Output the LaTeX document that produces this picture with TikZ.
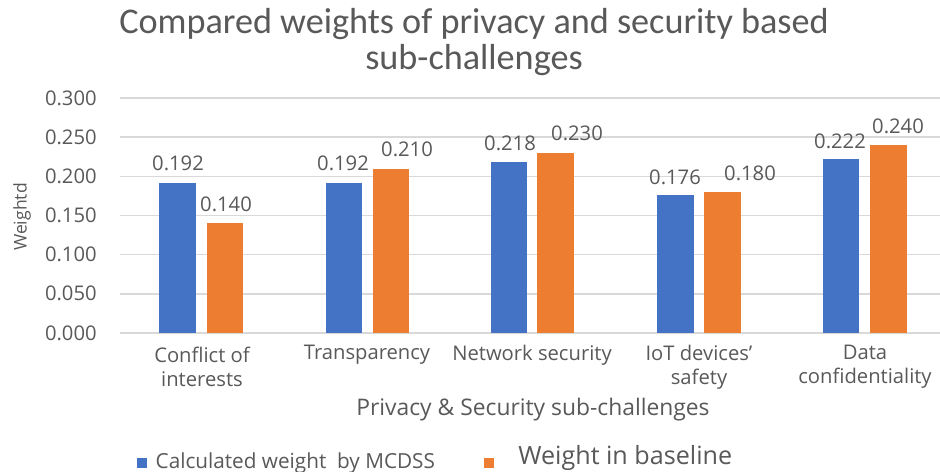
\documentclass[tikz,border=0pt]{standalone}
\usepackage{fontspec}
\setmainfont{Open Sans}
\newfontfamily\titlefont{Carlito}
\usetikzlibrary{positioning}
\definecolor{calcblue}{HTML}{4472C4}
\definecolor{baseorange}{HTML}{ED7D31}
\definecolor{gridgray}{HTML}{D9D9D9}
\definecolor{textgray}{HTML}{595959}
\tikzset{
  gridline/.style={draw=gridgray, line width=0.03cm},
  calcbar/.style={fill=calcblue},
  basebar/.style={fill=baseorange},
  ticklabel/.style={anchor=east, text=textgray, inner sep=0pt, font=\fontsize{11.5}{13}\selectfont},
  vallabel/.style={text=textgray, inner sep=0pt, font=\fontsize{11.5}{13}\selectfont},
  catlabel/.style={text=textgray, align=center, inner sep=0pt, font=\fontsize{11.5}{13.6}\selectfont},
  axistitle/.style={text=textgray, inner sep=0pt, font=\fontsize{13}{15}\selectfont},
  legendkey/.style={minimum size=0.2cm, inner sep=0pt},
  legendtext/.style={text=textgray, inner sep=0pt, font=\fontsize{11.8}{13}\selectfont}
}

\begin{document}
\begin{tikzpicture}[x=0.02cm, y=-0.02cm]
  \useasboundingbox (0,0) rectangle (940,471);
  \clip (0,0) rectangle (940,471);
  \fill[white] (0,0) rectangle (940,471);

  % title
  \node[text=textgray, align=center, inner sep=0pt, font=\titlefont\fontsize{20.6}{20.6}\selectfont] (title) at (474,42)
    {Compared weights of privacy and security based\\sub-challenges};

  % grid and value axis
  \foreach \v/\y in {0.000/333, 0.050/293.8, 0.100/254.7, 0.150/215.5, 0.200/176.3, 0.250/137.2, 0.300/98} {
    \draw[gridline] (120,\y) -- (940,\y);
    \node[ticklabel] (tick\v) at (97,\y) {\v};
  }
  \node[axistitle, rotate=90, font=\fontsize{10}{12}\selectfont] (ytitle) at (22,217) {Weightd};

  % bars
  \fill[calcbar] (159,333) rectangle (196,182.6);
  \fill[basebar] (207,333) rectangle (243,223.3);
  \fill[calcbar] (326,333) rectangle (362,182.6);
  \fill[basebar] (373,333) rectangle (409,168.5);
  \fill[calcbar] (491,333) rectangle (527,162.2);
  \fill[basebar] (537,333) rectangle (574,152.8);
  \fill[calcbar] (657,333) rectangle (694,195.1);
  \fill[basebar] (704,333) rectangle (741,192.0);
  \fill[calcbar] (823,333) rectangle (859,159.1);
  \fill[basebar] (870,333) rectangle (907,145.0);

  % value labels
  \node[vallabel] (conflictcalc) at (178,163) {0.192};
  \node[vallabel] (conflictbase) at (226,204) {0.140};
  \node[vallabel] (transcalc) at (343,163) {0.192};
  \node[vallabel] (transbase) at (407,149) {0.210};
  \node[vallabel] (netcalc) at (510,143) {0.218};
  \node[vallabel] (netbase) at (577,133) {0.230};
  \node[vallabel] (iotcalc) at (675,177) {0.176};
  \node[vallabel] (iotbase) at (750,173) {0.180};
  \node[vallabel] (datacalc) at (840,141) {0.222};
  \node[vallabel] (database) at (898,126) {0.240};

  % categories
  \node[catlabel] (conflict) at (202,367) {Conflict of\\interests};
  \node[catlabel] (trans) at (367,355) {Transparency};
  \node[catlabel] (net) at (532,355) {Network security};
  \node[catlabel] (iot) at (699,367) {IoT devices'\\safety};
  \node[catlabel] (data) at (865,367) {Data\\confidentiality};
  \node[axistitle] (xtitle) at (533,410) {Privacy \& Security sub-challenges};

  % legend
  \node[legendkey, fill=calcblue] (keycalc) at (141.5,463) {};
  \node[legendtext, right=0.17cm of keycalc] (legcalc) {Calculated weight\ \ by MCDSS};
  \node[legendkey, fill=baseorange] (keybase) at (488.5,463) {};
  \node[legendtext, anchor=base west, font=\fontsize{14.3}{16}\selectfont] (legbase) at (518,464) {Weight in baseline};
\end{tikzpicture}
\end{document}
